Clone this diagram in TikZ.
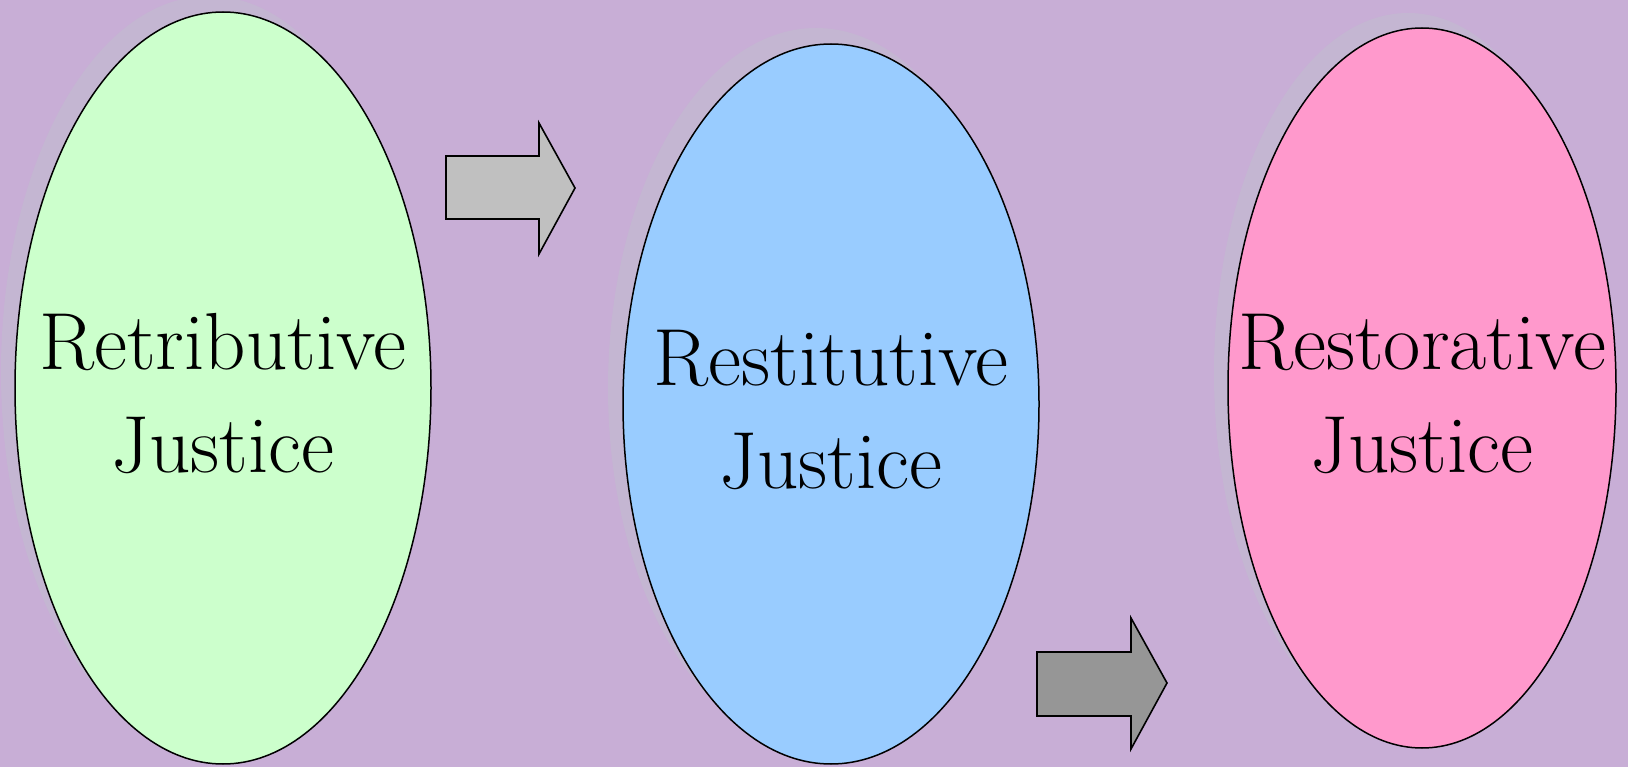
\documentclass[tikz,border=0pt]{standalone}
\usetikzlibrary{shapes.geometric}
\definecolor{bgc}{RGB}{200,174,214}
\definecolor{shadowc}{RGB}{196,182,210}
\definecolor{greenc}{RGB}{204,255,204}
\definecolor{bluec}{RGB}{153,204,255}
\definecolor{pinkc}{RGB}{255,153,204}
\definecolor{arrowa}{RGB}{192,192,192}
\definecolor{arrowb}{RGB}{150,150,150}
\tikzset{
  ell/.style={ellipse, draw=black, line width=1.5pt, inner sep=0pt},
  shad/.style={ellipse, fill=shadowc, inner sep=0pt},
  lbl/.style={align=center, inner sep=0pt, font=\fontsize{81}{103}\selectfont},
  blockarrow/.style={draw=black, line width=1.6pt, line join=miter}
}
\begin{document}
\begin{tikzpicture}[x=1pt,y=-1pt]
\fill[bgc] (0,0) rectangle (1628,767);
\useasboundingbox (0,0) rectangle (1628,767);
% shadows
\node[shad, minimum width=416pt, minimum height=752pt] (s1) at (209,372) {};
\node[shad, minimum width=416pt, minimum height=720pt] (s2) at (816,388) {};
\node[shad, minimum width=388pt, minimum height=720pt] (s3) at (1408,373) {};
% ellipses
\node[ell, fill=greenc, minimum width=416pt, minimum height=752pt] (e1) at (223,388) {};
\node[ell, fill=bluec, minimum width=416pt, minimum height=720pt] (e2) at (831,404) {};
\node[ell, fill=pinkc, minimum width=388pt, minimum height=720pt] (e3) at (1422,388) {};
% labels
\node[lbl] (t1) at ([yshift=-6pt]e1.center) {Retributive\\Justice};
\node[lbl] (t2) at ([yshift=-6pt]e2.center) {Restitutive\\Justice};
\node[lbl] (t3) at ([yshift=-6pt]e3.center) {Restorative\\Justice};
% block arrows
\coordinate (a1) at (446,188);
\draw[blockarrow, fill=arrowa] (446,156) -- (539,156) -- (539,123) -- (575,188) -- (539,254) -- (539,219) -- (446,219) -- cycle;
\coordinate (a2) at (1037,683);
\draw[blockarrow, fill=arrowb] (1037,652) -- (1131,652) -- (1131,618) -- (1167,683) -- (1131,749) -- (1131,716) -- (1037,716) -- cycle;
\end{tikzpicture}
\end{document}
